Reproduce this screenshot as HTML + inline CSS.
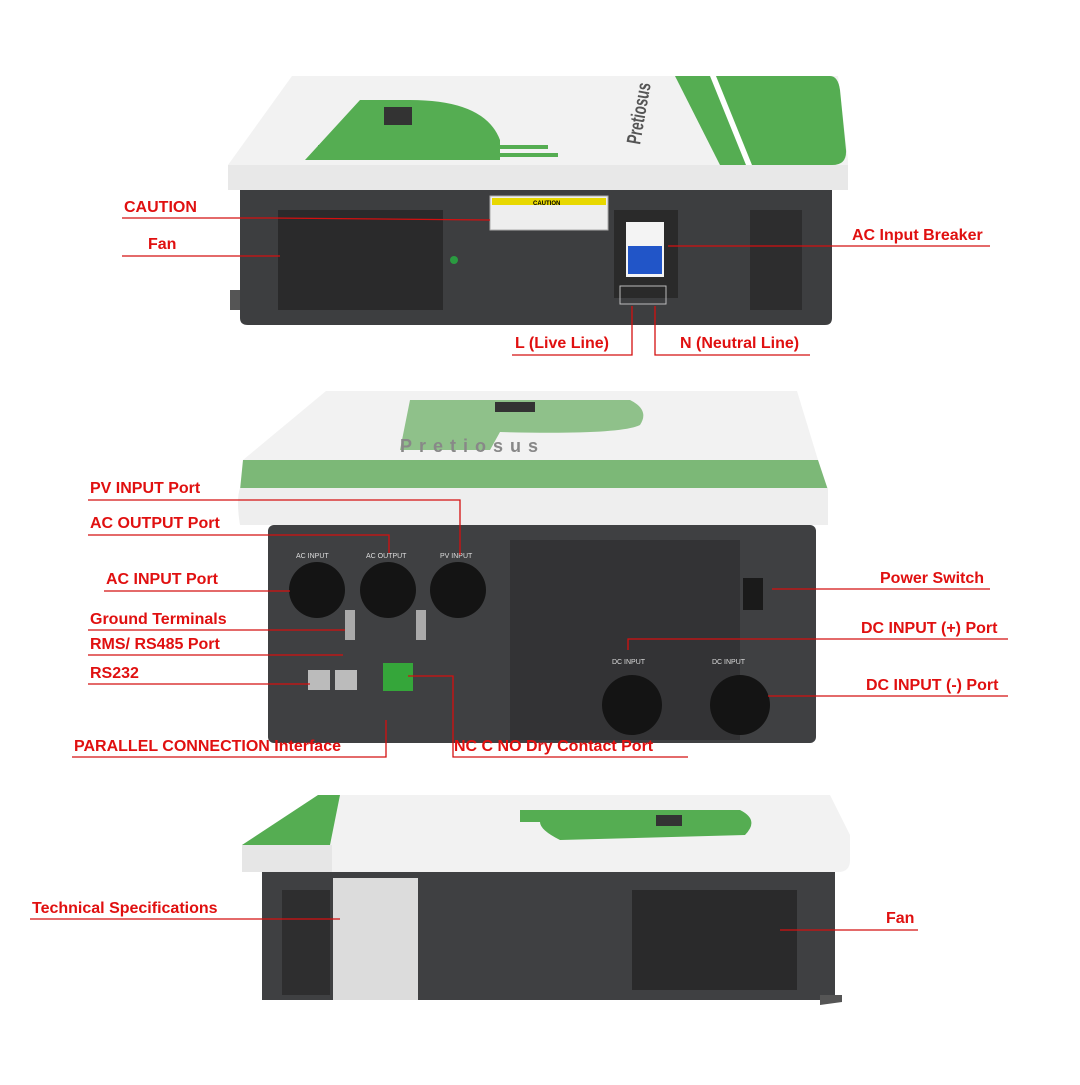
<!DOCTYPE html><html><head><meta charset="utf-8"><style>
body{margin:0;background:#fff}
svg text{font-family:"Liberation Sans",sans-serif}
.l{fill:#e01010;font-weight:bold;font-size:16px}
.ln{stroke:#d41010;stroke-width:1.3;fill:none}
</style></head><body>
<svg width="1080" height="1080" viewBox="0 0 1080 1080" xmlns="http://www.w3.org/2000/svg">
<!-- TOP UNIT -->
<path d="M292 76 L838 76 L848 160 L848 178 Q848 190 836 190 L238 190 Q228 190 228 178 L228 165 Z" fill="#f2f2f2"/>
<path d="M675 76 L830 76 Q838 76 840 90 L846 150 Q847 165 832 165 L720 165 Z" fill="#55ad52"/>
<path d="M710 76 L716 76 L752 165 L746 165Z" fill="#fff"/>
<path d="M305 160 L500 160 L500 140 Q485 100 410 100 L360 100 Z" fill="#55ad52"/>
<rect x="384" y="107" width="28" height="18" fill="#333"/>
<rect x="318" y="145" width="230" height="4" fill="#55ad52"/>
<rect x="318" y="153" width="240" height="4" fill="#55ad52"/>
<text x="0" y="0" transform="translate(640,145) rotate(-80)" font-size="20" fill="#555" font-weight="bold" textLength="62" lengthAdjust="spacingAndGlyphs">Pretiosus</text>
<rect x="228" y="165" width="620" height="25" fill="#e8e8e8"/>
<path d="M240 190 L832 190 L832 318 Q832 325 825 325 L248 325 Q240 325 240 318 Z" fill="#3d3e40"/>
<rect x="278" y="210" width="165" height="100" fill="#2a2a2b"/>
<rect x="750" y="210" width="52" height="100" fill="#2d2d2e"/>
<rect x="490" y="196" width="118" height="34" fill="#eee" stroke="#aaa"/>
<rect x="492" y="198" width="114" height="7" fill="#e8d800"/>
<text x="533" y="205" font-size="6" font-weight="bold">CAUTION</text>
<rect x="614" y="210" width="64" height="88" fill="#2a2a2a"/>
<rect x="626" y="222" width="38" height="55" fill="#f4f4f4"/>
<rect x="628" y="246" width="34" height="28" fill="#2155c8"/>
<rect x="620" y="286" width="46" height="18" fill="none" stroke="#bbb"/>
<circle cx="454" cy="260" r="4" fill="#2a9a40"/>
<path d="M230 290 L240 290 L240 310 L230 310Z" fill="#555"/>
<!-- top labels -->
<text class="l" x="124" y="212">CAUTION</text>
<path class="ln" d="M122 218 L270 218 L490 220"/>
<text class="l" x="148" y="249">Fan</text>
<path class="ln" d="M122 256 L280 256"/>
<text class="l" x="852" y="240">AC Input Breaker</text>
<path class="ln" d="M668 246 L990 246"/>
<text class="l" x="515" y="348">L (Live Line)</text>
<path class="ln" d="M512 355 L632 355 L632 306"/>
<text class="l" x="680" y="348">N (Neutral Line)</text>
<path class="ln" d="M655 306 L655 355 L810 355"/>
<!-- MIDDLE UNIT -->
<path d="M326 391 L797 391 L818 460 L243 460 Z" fill="#f2f2f2"/>
<path d="M410 400 L630 400 Q650 410 640 425 Q620 435 500 432 L490 450 L400 450Z" fill="#8fc18a"/>
<rect x="495" y="402" width="40" height="10" fill="#333"/>
<text x="400" y="452" font-size="18" font-weight="bold" fill="#888" letter-spacing="7">Pretiosus</text>
<path d="M243 460 L818 460 L828 490 L240 490 Z" fill="#7cb877"/>
<path d="M240 488 L828 488 L828 525 L240 525 Q236 500 240 488Z" fill="#eeeeee"/>
<rect x="268" y="525" width="548" height="218" rx="6" fill="#3f4042"/>
<rect x="510" y="540" width="230" height="200" fill="#333335"/>
<g fill="#141414">
<circle cx="317" cy="590" r="28"/><circle cx="388" cy="590" r="28"/><circle cx="458" cy="590" r="28"/>
<circle cx="632" cy="705" r="30"/><circle cx="740" cy="705" r="30"/></g>
<g font-size="7" fill="#ddd"><text x="296" y="558">AC INPUT</text><text x="366" y="558">AC OUTPUT</text><text x="440" y="558">PV INPUT</text><text x="612" y="664">DC INPUT</text><text x="712" y="664">DC INPUT</text></g>
<rect x="743" y="578" width="20" height="32" fill="#1a1a1a"/>
<rect x="308" y="670" width="22" height="20" fill="#bbb"/><rect x="335" y="670" width="22" height="20" fill="#bbb"/>
<rect x="383" y="663" width="30" height="28" fill="#35a63a"/>
<rect x="345" y="610" width="10" height="30" fill="#aaa"/><rect x="416" y="610" width="10" height="30" fill="#aaa"/>
<!-- middle labels -->
<text class="l" x="90" y="493">PV INPUT Port</text>
<path class="ln" d="M88 500 L460 500 L460 555"/>
<text class="l" x="90" y="528">AC OUTPUT Port</text>
<path class="ln" d="M88 535 L389 535 L389 553"/>
<text class="l" x="106" y="584">AC INPUT Port</text>
<path class="ln" d="M104 591 L290 591"/>
<text class="l" x="90" y="624">Ground Terminals</text>
<path class="ln" d="M88 630 L345 630"/>
<text class="l" x="90" y="649">RMS/ RS485 Port</text>
<path class="ln" d="M88 655 L343 655"/>
<text class="l" x="90" y="678">RS232</text>
<path class="ln" d="M88 684 L310 684"/>
<text class="l" x="74" y="751">PARALLEL CONNECTION Interface</text>
<path class="ln" d="M72 757 L386 757 L386 720"/>
<text class="l" x="454" y="751">NC C NO Dry Contact Port</text>
<path class="ln" d="M408 676 L453 676 L453 757 L688 757"/>
<text class="l" x="880" y="583">Power Switch</text>
<path class="ln" d="M772 589 L990 589"/>
<text class="l" x="861" y="633">DC INPUT (+) Port</text>
<path class="ln" d="M628 650 L628 639 L1008 639"/>
<text class="l" x="866" y="690">DC INPUT (-) Port</text>
<path class="ln" d="M768 696 L1008 696"/>
<!-- BOTTOM UNIT -->
<path d="M318 795 L830 795 L850 835 L850 860 Q850 872 838 872 L242 872 L242 845 Z" fill="#f2f2f2"/>
<path d="M318 795 L340 795 L330 845 L242 845 Z" fill="#55ad52"/>
<path d="M520 810 L740 810 Q760 820 745 835 L560 840 Q540 830 540 822 L520 822Z" fill="#55ad52"/>
<rect x="656" y="815" width="26" height="11" fill="#333"/>
<rect x="242" y="845" width="90" height="27" fill="#e6e6e6"/>
<rect x="262" y="872" width="573" height="128" fill="#3f4042"/>
<rect x="282" y="890" width="48" height="105" fill="#2e2e2f"/>
<rect x="333" y="878" width="85" height="122" fill="#dcdcdc"/>
<rect x="632" y="890" width="165" height="100" fill="#2a2a2b"/>
<path d="M820 995 L842 995 L842 1002 L820 1005Z" fill="#555"/>
<text class="l" x="32" y="913">Technical Specifications</text>
<path class="ln" d="M30 919 L340 919"/>
<text class="l" x="886" y="923">Fan</text>
<path class="ln" d="M780 930 L918 930"/>
</svg></body></html>
